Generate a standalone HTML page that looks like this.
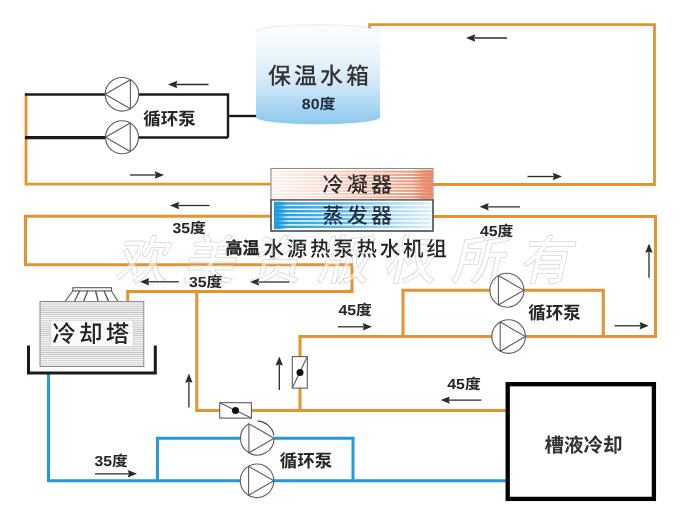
<!DOCTYPE html>
<html lang="zh"><head><meta charset="utf-8"><title>高温水源热泵热水机组</title>
<style>html,body{margin:0;padding:0;background:#fff}svg{display:block;will-change:transform;opacity:0.999}text{font-family:"Liberation Sans","Noto Sans CJK SC",sans-serif}text{font-weight:500;text-rendering:geometricPrecision}.b{font-weight:bold}</style></head><body>
<svg width="700" height="529" viewBox="0 0 700 529">
<defs>
<linearGradient id="tank" x1="0" y1="0" x2="0" y2="1"><stop offset="0" stop-color="#fafdff"/><stop offset="0.3" stop-color="#edf6fc"/><stop offset="0.62" stop-color="#cde6f7"/><stop offset="1" stop-color="#8cc8ef"/></linearGradient>
<linearGradient id="cond" x1="0" y1="0" x2="1" y2="0"><stop offset="0" stop-color="#fdf1ec"/><stop offset="0.3" stop-color="#f9ddd2"/><stop offset="0.65" stop-color="#f2b49f"/><stop offset="1" stop-color="#e88a6b"/></linearGradient>
<linearGradient id="condl" x1="0" y1="0" x2="1" y2="0"><stop offset="0" stop-color="#f4cfc2"/><stop offset="0.5" stop-color="#f7d6ca"/><stop offset="1" stop-color="#f8d2c4"/></linearGradient>
<linearGradient id="evap" x1="0" y1="0" x2="1" y2="0"><stop offset="0" stop-color="#1d9be0"/><stop offset="0.4" stop-color="#55b5ea"/><stop offset="0.75" stop-color="#a9daf3"/><stop offset="1" stop-color="#dcf1f8"/></linearGradient>
<pattern id="tower" width="4" height="2.1" patternUnits="userSpaceOnUse"><rect width="4" height="2.1" fill="#f8f8f8"/><rect y="1.2" width="4" height="0.9" fill="#c2c2c2"/></pattern>
<linearGradient id="capr" x1="0" y1="0" x2="1" y2="0"><stop offset="0" stop-color="#e88a6b" stop-opacity="0"/><stop offset="0.55" stop-color="#e88a6b" stop-opacity="0.75"/><stop offset="1" stop-color="#e88a6b" stop-opacity="0.95"/></linearGradient>
<linearGradient id="capl" x1="0" y1="0" x2="1" y2="0"><stop offset="0" stop-color="#1d9be0" stop-opacity="1"/><stop offset="0.4" stop-color="#1d9be0" stop-opacity="0.8"/><stop offset="1" stop-color="#1d9be0" stop-opacity="0"/></linearGradient>
</defs>
<rect width="700" height="529" fill="#fff"/>
<path d="M271 184.2 H26 V93" fill="none" stroke="#e39330" stroke-width="2.8" stroke-linejoin="miter" />
<path d="M271 216.3 H25.5 V264.8 H352 V291.4 H127.7 V302" fill="none" stroke="#e39330" stroke-width="3.0" stroke-linejoin="miter" />
<path d="M196.8 291.4 V410.6 H506" fill="none" stroke="#e39330" stroke-width="3.0" stroke-linejoin="miter" />
<path d="M433 216.6 H655.5 V336.5 H300 V410.6" fill="none" stroke="#e39330" stroke-width="3.0" stroke-linejoin="miter" />
<path d="M403 336.5 V290.3 H603.3 V336.5" fill="none" stroke="#e39330" stroke-width="3.0" stroke-linejoin="miter" />
<path d="M48.5 373 V480.8 H506" fill="none" stroke="#2499dc" stroke-width="3.0" stroke-linejoin="miter" />
<path d="M157.5 480.8 V438.3 H353 V480.8" fill="none" stroke="#2499dc" stroke-width="3.0" stroke-linejoin="miter" />
<path d="M25 94.5 H228 V137.5" fill="none" stroke="#1a1a1a" stroke-width="2.4" stroke-linejoin="miter" />
<path d="M25 137.6 H122" fill="none" stroke="#1a1a1a" stroke-width="3.2" stroke-linejoin="miter" />
<path d="M122 137.5 H228" fill="none" stroke="#1a1a1a" stroke-width="2.4" stroke-linejoin="miter" />
<path d="M228 116 H258" fill="none" stroke="#1a1a1a" stroke-width="2.4" stroke-linejoin="miter" />
<g transform="skewX(-13)" font-size="52" fill="#fff" fill-opacity="0.55"><text x="179" y="279" letter-spacing="15.3">欢美资版权所有</text></g>
<path d="M256 32 A62 7.4 0 0 1 380 32 V117.3 A62 7 0 0 1 256 117.3 Z" fill="url(#tank)"/>
<path d="M256 32 A62 7.4 0 0 1 380 32" fill="none" stroke="#e9f0f5" stroke-width="1.4"/>
<text x="320" y="84.3" font-size="23" text-anchor="middle" fill="#333" letter-spacing="3">保温水箱</text>
<text class="b" transform="translate(301.8,108.6) scale(1.09,1)" font-size="14.6" fill="#1d2d3a">80度</text>
<path d="M369.6 28.3 V24.7 H654.5 V184.5 H433" fill="none" stroke="#e39330" stroke-width="2.8" stroke-linejoin="miter" />
<circle cx="122" cy="94.3" r="16.8" fill="#fff" stroke="#5c5c5c" stroke-width="1.1"/>
<polygon points="105.20,94.30 130.40,79.75 130.40,108.85" fill="none" stroke="#5c5c5c" stroke-width="1.1" stroke-linejoin="round"/>
<circle cx="122" cy="137.3" r="16.5" fill="#fff" stroke="#5c5c5c" stroke-width="1.1"/>
<polygon points="105.50,137.30 130.25,123.01 130.25,151.59" fill="none" stroke="#5c5c5c" stroke-width="1.1" stroke-linejoin="round"/>
<circle cx="506.9" cy="290.2" r="17.0" fill="#fff" stroke="#5c5c5c" stroke-width="1.1"/>
<polygon points="523.90,290.20 498.40,275.48 498.40,304.92" fill="none" stroke="#5c5c5c" stroke-width="1.1" stroke-linejoin="round"/>
<circle cx="508.6" cy="336.6" r="16.8" fill="#fff" stroke="#5c5c5c" stroke-width="1.1"/>
<polygon points="525.40,336.60 500.20,322.05 500.20,351.15" fill="none" stroke="#5c5c5c" stroke-width="1.1" stroke-linejoin="round"/>
<circle cx="257.3" cy="438.3" r="16.8" fill="#fff"/>
<path d="M274.10 438.30 A16.8 16.8 0 1 1 248.90 423.75" fill="none" stroke="#5c5c5c" stroke-width="1.1"/>
<polygon points="274.10,438.30 248.90,423.75 248.90,452.85" fill="none" stroke="#5c5c5c" stroke-width="1.1" stroke-linejoin="round"/>
<circle cx="257" cy="480.8" r="16.8" fill="#fff" stroke="#5c5c5c" stroke-width="1.1"/>
<polygon points="273.80,480.80 248.60,466.25 248.60,495.35" fill="none" stroke="#5c5c5c" stroke-width="1.1" stroke-linejoin="round"/>
<path d="M257.6 421.1 A17.2 17.2 0 0 1 273.9 435.4" fill="none" stroke="#444" stroke-width="1.2"/>
<rect x="271" y="168.5" width="162" height="62.5" fill="#fff" stroke="#8a8a8a" stroke-width="1.1"/>
<rect x="272" y="170.60" width="160.5" height="2.1" fill="url(#cond)"/>
<rect x="272" y="173.80" width="160.5" height="2.1" fill="url(#cond)"/>
<rect x="272" y="177.00" width="160.5" height="2.1" fill="url(#cond)"/>
<rect x="272" y="180.20" width="160.5" height="2.1" fill="url(#cond)"/>
<rect x="272" y="183.40" width="160.5" height="2.1" fill="url(#cond)"/>
<rect x="272" y="186.60" width="160.5" height="2.1" fill="url(#cond)"/>
<rect x="272" y="189.80" width="160.5" height="2.1" fill="url(#cond)"/>
<rect x="272" y="193.00" width="160.5" height="2.1" fill="url(#cond)"/>
<rect x="272" y="196.20" width="160.5" height="2.1" fill="url(#cond)"/>
<rect x="412" y="169.6" width="20.5" height="29.4" fill="url(#capr)"/>
<rect x="274" y="202.20" width="157.5" height="2.5" fill="url(#evap)"/>
<rect x="274" y="206.10" width="157.5" height="2.5" fill="url(#evap)"/>
<rect x="274" y="210.00" width="157.5" height="2.5" fill="url(#evap)"/>
<rect x="274" y="213.90" width="157.5" height="2.5" fill="url(#evap)"/>
<rect x="274" y="217.80" width="157.5" height="2.5" fill="url(#evap)"/>
<rect x="274" y="221.70" width="157.5" height="2.5" fill="url(#evap)"/>
<rect x="274" y="225.60" width="157.5" height="2.5" fill="url(#evap)"/>
<rect x="274" y="201.6" width="14" height="27.6" fill="url(#capl)"/>
<rect x="271" y="199.9" width="162" height="31.1" fill="none" stroke="#4a4a4a" stroke-width="1.4"/>
<text x="358.8" y="192.3" font-size="21" text-anchor="middle" fill="#2a2a2a" letter-spacing="3.2">冷凝器</text>
<text x="358.8" y="223.2" font-size="21" text-anchor="middle" fill="#1c2f3c" letter-spacing="3.2">蒸发器</text>
<text x="225.5" y="254" font-size="17" fill="#222"><tspan class="b" stroke="#222" stroke-width="0.35">高温</tspan><tspan dx="4" font-size="20.5" letter-spacing="2.75" dy="1.5">水源热泵热水机组</tspan></text>
<polygon points="73.2,290.5 111.2,290.5 118,301.5 65,301.5" fill="#fff" stroke="#5a5a5a" stroke-width="1.1"/>
<rect x="72.9" y="287.7" width="38.6" height="3.2" fill="#fff" stroke="#5a5a5a" stroke-width="1.1"/>
<line x1="79.6" y1="291" x2="74.4" y2="301.5" stroke="#555" stroke-width="1.3"/>
<line x1="87.6" y1="291" x2="83.6" y2="301.5" stroke="#555" stroke-width="1.3"/>
<line x1="95.6" y1="291" x2="98.2" y2="301.5" stroke="#555" stroke-width="1.3"/>
<line x1="104.1" y1="291" x2="108.7" y2="301.5" stroke="#555" stroke-width="1.3"/>
<rect x="40" y="301.5" width="103.8" height="65" fill="url(#tower)" stroke="#8a8a8a" stroke-width="1"/>
<rect x="50.6" y="320.2" width="82.5" height="26.2" fill="#fafafa" stroke="#ccc" stroke-width="0.6"/>
<text x="92.4" y="342" font-size="23.5" text-anchor="middle" fill="#222" letter-spacing="3.3">冷却塔</text>
<path d="M28.5 345.5 V373 H155.3 V345.5" fill="none" stroke="#1a1a1a" stroke-width="3" stroke-linejoin="miter" />
<rect x="507.7" y="384.2" width="146.2" height="114.7" fill="#fff" stroke="#000" stroke-width="4.3"/>
<text class="b" x="583.5" y="451.5" font-size="19.5" text-anchor="middle" fill="#333">槽液冷却</text>
<g stroke="#5c5c5c" stroke-width="1.1"><rect x="219.7" y="402.7" width="31.7" height="15.4" fill="#fff"/><line x1="219.7" y1="402.7" x2="251.4" y2="418.1"/></g><circle cx="235.5" cy="410.4" r="3.5" fill="#111"/>
<g stroke="#5c5c5c" stroke-width="1.1"><rect x="292.3" y="356.6" width="15" height="31.5" fill="#fff"/><line x1="307.3" y1="356.6" x2="292.3" y2="388.1"/></g><circle cx="300" cy="372.5" r="3.5" fill="#111"/>
<text class="b" transform="translate(143.3,125.3) scale(1,1)" font-size="17.5" fill="#262626">循环泵</text>
<text class="b" transform="translate(528.2,319.3) scale(1,1)" font-size="17.5" fill="#262626">循环泵</text>
<text class="b" transform="translate(279.8,467.3) scale(1,1)" font-size="17.5" fill="#262626">循环泵</text>
<text class="b" transform="translate(172.5,233) scale(1.09,1)" font-size="14.5" fill="#262626">35度</text>
<text class="b" transform="translate(189,286.7) scale(1.09,1)" font-size="14.5" fill="#262626">35度</text>
<text class="b" transform="translate(94.5,465.5) scale(1.09,1)" font-size="14.5" fill="#262626">35度</text>
<text class="b" transform="translate(480,235.5) scale(1.09,1)" font-size="14.5" fill="#262626">45度</text>
<text class="b" transform="translate(338.5,314.7) scale(1.09,1)" font-size="14.5" fill="#262626">45度</text>
<text class="b" transform="translate(447.3,389.1) scale(1.09,1)" font-size="14.5" fill="#262626">45度</text>
<line x1="507.00" y1="38.00" x2="474.20" y2="38.00" stroke="#2b2b2b" stroke-width="1.3"/>
<polygon points="466.00,38.00 475.20,34.30 474.20,38.00 475.20,41.70" fill="#2b2b2b"/>
<line x1="208.50" y1="84.50" x2="176.20" y2="84.50" stroke="#2b2b2b" stroke-width="1.3"/>
<polygon points="168.00,84.50 177.20,80.80 176.20,84.50 177.20,88.20" fill="#2b2b2b"/>
<line x1="130.00" y1="175.00" x2="155.80" y2="175.00" stroke="#2b2b2b" stroke-width="1.3"/>
<polygon points="164.00,175.00 154.80,178.70 155.80,175.00 154.80,171.30" fill="#2b2b2b"/>
<line x1="527.50" y1="176.50" x2="553.80" y2="176.50" stroke="#2b2b2b" stroke-width="1.3"/>
<polygon points="562.00,176.50 552.80,180.20 553.80,176.50 552.80,172.80" fill="#2b2b2b"/>
<line x1="209.50" y1="205.50" x2="178.20" y2="205.50" stroke="#2b2b2b" stroke-width="1.3"/>
<polygon points="170.00,205.50 179.20,201.80 178.20,205.50 179.20,209.20" fill="#2b2b2b"/>
<line x1="520.00" y1="206.80" x2="487.70" y2="206.80" stroke="#2b2b2b" stroke-width="1.3"/>
<polygon points="479.50,206.80 488.70,203.10 487.70,206.80 488.70,210.50" fill="#2b2b2b"/>
<line x1="178.80" y1="281.80" x2="148.20" y2="281.80" stroke="#2b2b2b" stroke-width="1.3"/>
<polygon points="140.00,281.80 149.20,278.10 148.20,281.80 149.20,285.50" fill="#2b2b2b"/>
<line x1="289.50" y1="282.00" x2="258.20" y2="282.00" stroke="#2b2b2b" stroke-width="1.3"/>
<polygon points="250.00,282.00 259.20,278.30 258.20,282.00 259.20,285.70" fill="#2b2b2b"/>
<line x1="338.00" y1="326.80" x2="363.80" y2="326.80" stroke="#2b2b2b" stroke-width="1.3"/>
<polygon points="372.00,326.80 362.80,330.50 363.80,326.80 362.80,323.10" fill="#2b2b2b"/>
<line x1="614.50" y1="325.80" x2="640.60" y2="325.80" stroke="#2b2b2b" stroke-width="1.3"/>
<polygon points="648.80,325.80 639.60,329.50 640.60,325.80 639.60,322.10" fill="#2b2b2b"/>
<line x1="481.40" y1="400.10" x2="448.80" y2="400.10" stroke="#2b2b2b" stroke-width="1.3"/>
<polygon points="440.60,400.10 449.80,396.40 448.80,400.10 449.80,403.80" fill="#2b2b2b"/>
<line x1="95.00" y1="473.80" x2="128.80" y2="473.80" stroke="#2b2b2b" stroke-width="1.3"/>
<polygon points="137.00,473.80 127.80,477.50 128.80,473.80 127.80,470.10" fill="#2b2b2b"/>
<line x1="649.00" y1="277.80" x2="649.00" y2="251.80" stroke="#2b2b2b" stroke-width="1.3"/>
<polygon points="649.00,243.60 652.70,252.80 649.00,251.80 645.30,252.80" fill="#2b2b2b"/>
<line x1="279.30" y1="390.00" x2="279.30" y2="364.60" stroke="#2b2b2b" stroke-width="1.3"/>
<polygon points="279.30,356.40 283.00,365.60 279.30,364.60 275.60,365.60" fill="#2b2b2b"/>
<line x1="188.90" y1="407.40" x2="188.90" y2="381.80" stroke="#2b2b2b" stroke-width="1.3"/>
<polygon points="188.90,373.60 192.60,382.80 188.90,381.80 185.20,382.80" fill="#2b2b2b"/>
<g transform="skewX(-13)" font-size="52" fill="none" stroke="#a0a0a0" stroke-width="0.5" stroke-opacity="0.6"><text x="179" y="279" letter-spacing="15.3">欢美资版权所有</text></g>
</svg></body></html>
